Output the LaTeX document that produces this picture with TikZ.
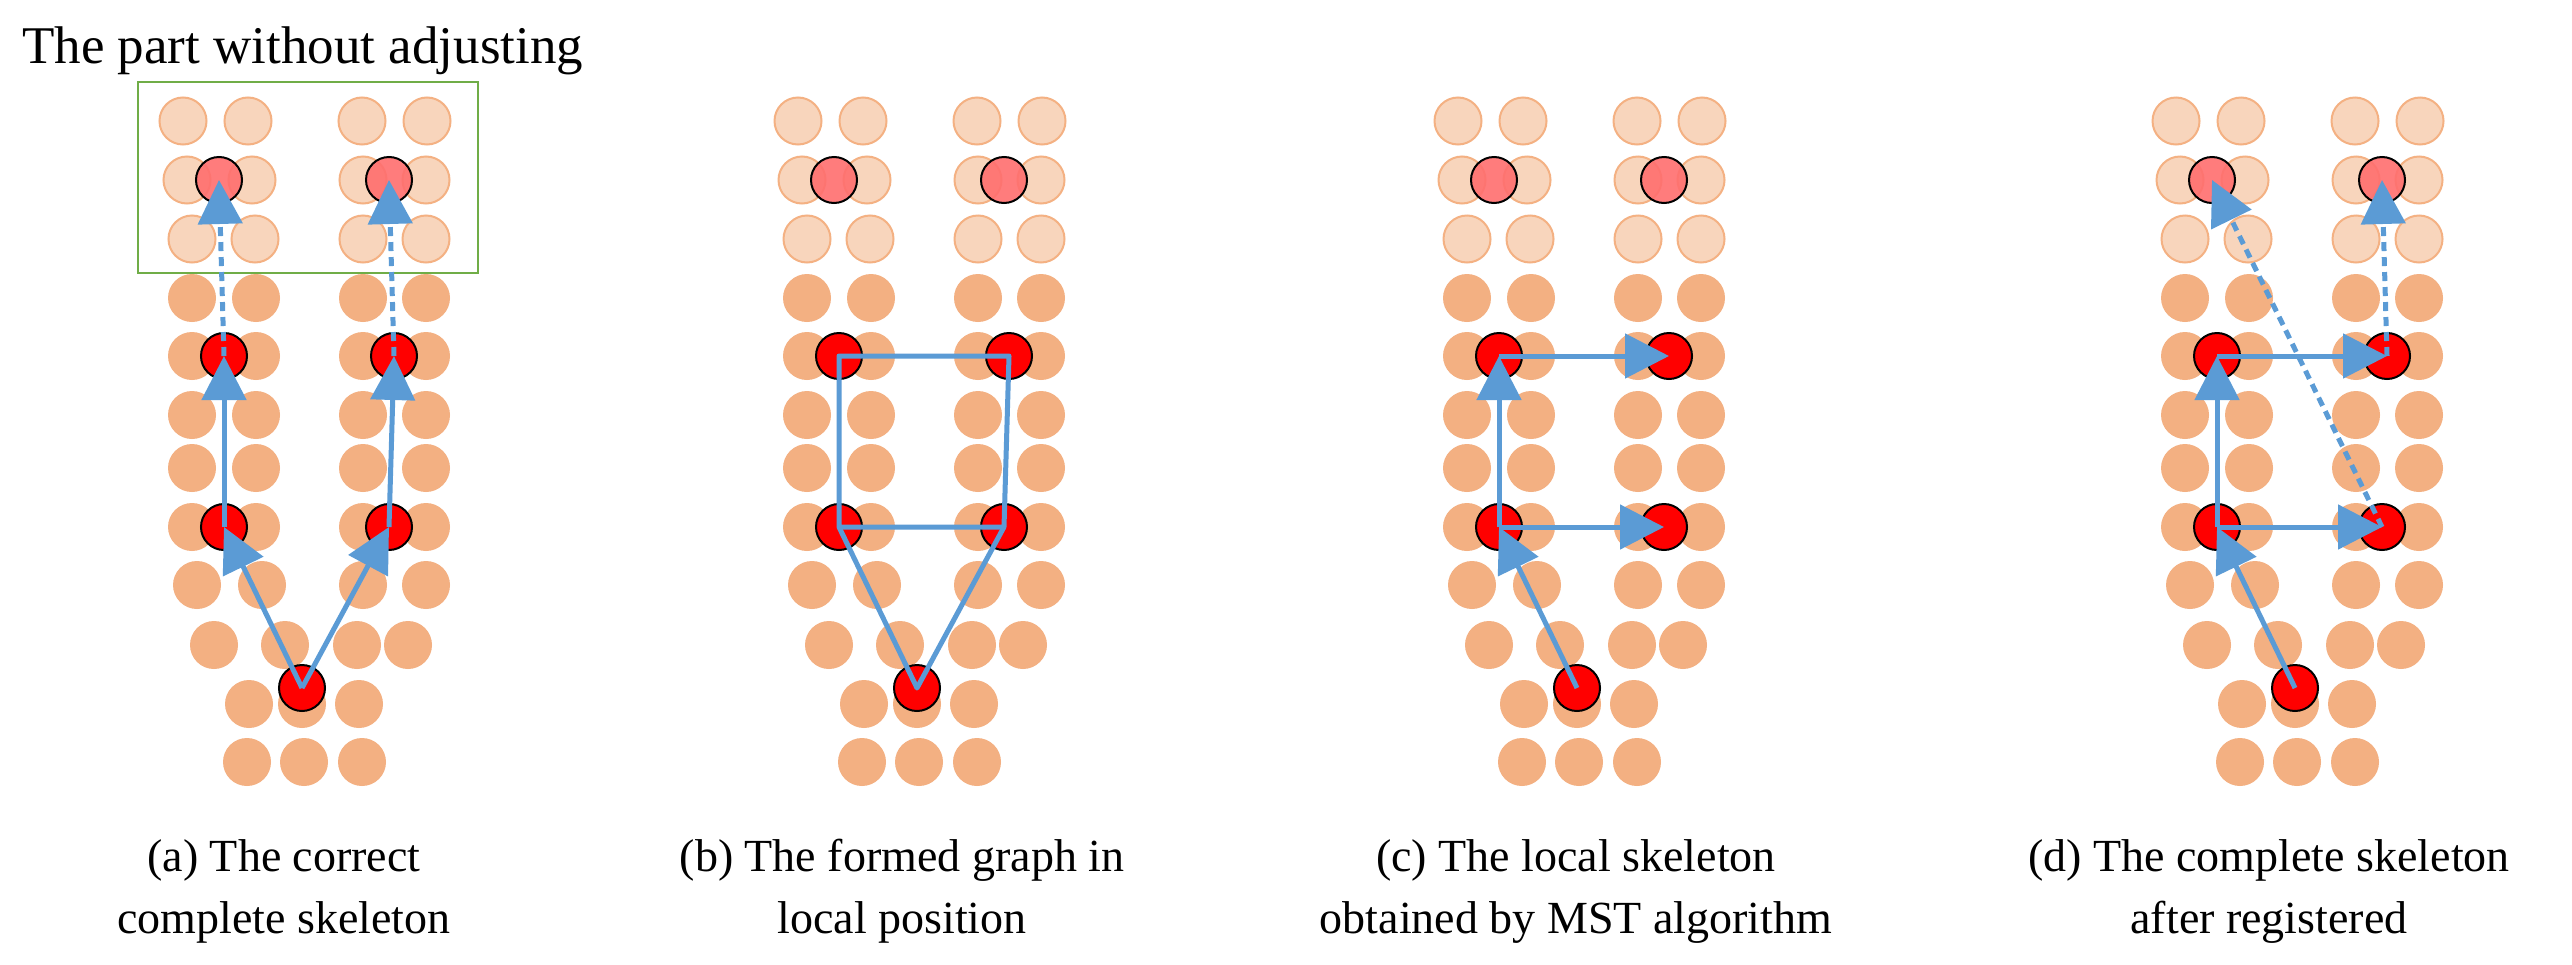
\documentclass[tikz,border=0pt]{standalone}
\usepackage{fontspec}
\setmainfont{Liberation Serif}
\usetikzlibrary{arrows.meta}
\definecolor{lightor}{RGB}{248,213,188}
\definecolor{orline}{RGB}{244,177,131}
\definecolor{darkor}{RGB}{243,176,130}
\definecolor{skyb}{RGB}{91,155,213}
\definecolor{boxgreen}{RGB}{112,173,71}
\definecolor{pinkred}{RGB}{255,110,110}
\tikzset{
  lightc/.style={circle,minimum size=47pt,inner sep=0pt,fill=lightor,draw=orline,line width=2pt},
  darkc/.style={circle,minimum size=48pt,inner sep=0pt,fill=darkor},
  redc/.style={circle,minimum size=46pt,inner sep=0pt,fill=red,draw=black,line width=2pt},
  pinkc/.style={circle,minimum size=46pt,inner sep=0pt,fill=pinkred,fill opacity=0.9,draw=black,line width=2pt},
  arr/.style={draw=skyb,line width=5pt,-{Triangle[length=44pt,width=44pt]}},
  darr/.style={arr,dash pattern=on 9pt off 6pt},
  gline/.style={draw=skyb,line width=5pt,line join=round},
  captxt/.style={font=\fontsize{46}{62}\selectfont,align=center,anchor=north}
}
\begin{document}
\begin{tikzpicture}[x=1pt,y=-1pt]
\fill[white] (0,0) rectangle (2572,964);
\useasboundingbox (0,0) rectangle (2572,964);
\foreach \p/\s in {a/0,b/615,c/1275,d/1993} {
  \foreach \x/\y in {183/121,248/121,362/121,427/121,187/180,252/180,363/180,426/180,192/239,255/239,363/239,426/239}
    \node[lightc] at (\x+\s,\y) {};
  \foreach \y in {298,356,415,468,527}
    \foreach \x in {192,256,363,426}
      \node[darkc] at (\x+\s,\y) {};
  \foreach \x/\y in {197/585,262/585,363/585,426/585,214/645,285/645,357/645,408/645,249/704,302/704,359/704,247/762,304/762,362/762}
    \node[darkc] at (\x+\s,\y) {};
  \node[pinkc] (\p T1) at (219+\s,180) {};
  \node[pinkc] (\p T2) at (389+\s,180) {};
  \node[redc] (\p L5) at (224+\s,356) {};
  \node[redc] (\p R5) at (394+\s,356) {};
  \node[redc] (\p L8) at (224+\s,527) {};
  \node[redc] (\p R8) at (389+\s,527) {};
  \node[redc] (\p B) at (302+\s,688) {};
}
% panel a
\node[draw=boxgreen,line width=2.5pt,minimum width=340pt,minimum height=191pt,inner sep=0pt] (box) at (308,177.5) {};
\node[font=\fontsize{53}{60}\selectfont,anchor=base west,inner sep=0pt] (toptxt) at (22,63) {The part without adjusting};
\draw[arr] (aB.center) -- (aL8.center);
\draw[arr] (aL8.center) -- (aL5.center);
\draw[darr] (aL5.center) -- (aT1.center);
\draw[arr] (aB.center) -- (aR8.center);
\draw[arr] (aR8.center) -- (aR5.center);
\draw[darr] (aR5.center) -- (aT2.center);
% panel b
\draw[gline] (bL5.center) -- (bR5.center) -- (bR8.center) -- (bL8.center) -- cycle;
\draw[gline] (bL8.center) -- (bB.center) -- (bR8.center);
% panel c
\draw[arr] (cB.center) -- (cL8.center);
\draw[arr] (cL8.center) -- (cL5.center);
\draw[arr] (cL5.center) -- (cR5.center);
\draw[arr] (cL8.center) -- (cR8.center);
% panel d
\draw[arr] (dB.center) -- (dL8.center);
\draw[arr] (dL8.center) -- (dL5.center);
\draw[arr] (dL5.center) -- (dR5.center);
\draw[arr] (dL8.center) -- (dR8.center);
\draw[darr] (dR5.center) -- (dT2.center);
\draw[darr] (dR8.center) -- (dT1.center);
% captions
\node[captxt] (capa) at (284,836) {(a) The correct\\complete skeleton};
\node[captxt] (capb) at (902,836) {(b) The formed graph in\\local position};
\node[captxt] (capc) at (1576,836) {(c) The local skeleton\\obtained by MST algorithm};
\node[captxt] (capd) at (2269,836) {(d) The complete skeleton\\after registered};
\end{tikzpicture}
\end{document}
